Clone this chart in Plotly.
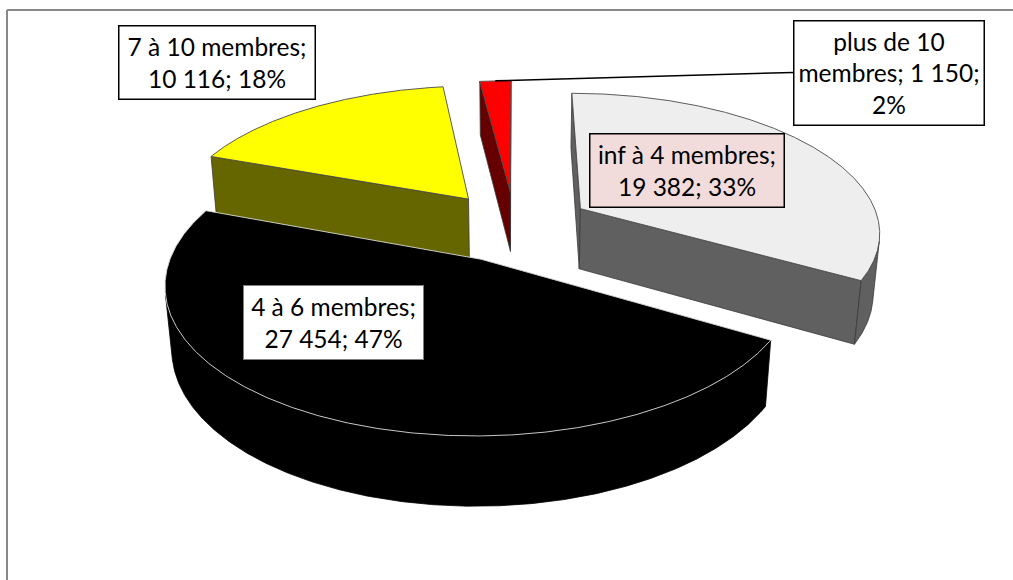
import textwrap
import numpy as np
import plotly.graph_objects as go

# Household size categories and counts
categories = ["inf à 4 membres", "4 à 6 membres", "7 à 10 membres", "plus de 10 membres"]
counts = [19382, 27454, 10116, 1150]
count_labels = ["19 382", "27 454", "10 116", "1 150"]
percent_labels = ["33%", "47%", "18%", "2%"]

# Styling per slice
top_colors = ["#eeeeee", "#000000", "#ffff00", "#ff0000"]
side_colors = ["#606060", "#000000", "#666600", "#660000"]
edge_colors = ["#4a4a4a", "#d9d9d9", "#4a4a4a", "#4a4a4a"]
side_edge_colors = ["#3a3a3a", "#000000", "#3a3a3a", "#3a3a3a"]

# Label boxes (centre x, centre y, width, height) in page pixels
label_boxes = [
    (686.5, 170.0, 195, 74),
    (333.5, 322.5, 181, 75),
    (216.5, 62.0, 197, 74),
    (888.5, 72.5, 191, 105),
]
label_bg = ["#f2dcdb", "#ffffff", "#ffffff", "#ffffff"]
label_border = ["#000000", "#7f7f7f", "#000000", "#000000"]
label_border_w = [1.5, 1, 1.5, 1.5]

W, H = 1013, 580

# 3D exploded pie geometry, expressed in page pixels
CX, CY = 515.0, 226.0
RADIUS = 300.0
EXPLODE = 77.0
THICK = 70.0
ELEV = np.radians(27.4)
DIST = 1731.0
SIN_E, COS_E = np.sin(ELEV), np.cos(ELEV)
CAMERA = np.array([0.0, DIST * SIN_E, DIST * COS_E])


def project(X, Y, Z):
    X = np.asarray(X, float)
    Y = np.asarray(Y, float)
    Z = np.asarray(Z, float)
    depth = Y * SIN_E + Z * COS_E
    p = DIST / (DIST - depth)
    return CX + X * p, CY - (Y * COS_E - Z * SIN_E) * p


def faces_for_slice(a0, a1):
    mid = 0.5 * (a0 + a1)
    ox, oz = EXPLODE * np.sin(mid), -EXPLODE * np.cos(mid)
    apex = np.array([ox, 0.0, oz])
    theta = np.linspace(a0, a1, 400)
    rx = ox + RADIUS * np.sin(theta)
    rz = oz - RADIUS * np.cos(theta)

    sides = []
    # radial walls
    for ang, sign in ((a0, -1.0), (a1, 1.0)):
        normal = sign * np.array([np.cos(ang), 0.0, np.sin(ang)])
        if np.dot(CAMERA - apex, normal) > 0:
            ex, ez = ox + RADIUS * np.sin(ang), oz - RADIUS * np.cos(ang)
            X = [ox, ex, ex, ox, ox]
            Y = [0, 0, -THICK, -THICK, 0]
            Z = [oz, ez, ez, oz, oz]
            sides.append(project(X, Y, Z))
    # outer curved wall, visible part only
    nx, nz = np.sin(theta), -np.cos(theta)
    vis = (CAMERA[0] - rx) * nx + (CAMERA[2] - rz) * nz > 0
    if vis.sum() > 1:
        tx, tz = rx[vis], rz[vis]
        X = np.concatenate([tx, tx[::-1], tx[:1]])
        Y = np.concatenate([np.zeros(len(tx)), -THICK * np.ones(len(tx)), [0]])
        Z = np.concatenate([tz, tz[::-1], tz[:1]])
        sides.append(project(X, Y, Z))
    # top face
    X = np.concatenate([[ox], rx, [ox]])
    Z = np.concatenate([[oz], rz, [oz]])
    top = project(X, np.zeros(len(X)), Z)
    return oz, sides, top


total = float(sum(counts))
bounds = np.concatenate([[0.0], np.cumsum(counts) / total]) * 2 * np.pi

slices = []
for i in range(len(counts)):
    oz, sides, top = faces_for_slice(bounds[i], bounds[i + 1])
    slices.append((oz, i, sides, top))
# paint from back to front
slices.sort(key=lambda s: s[0])

fig = go.Figure()
for oz, i, sides, top in slices:
    for sx, sy in sides:
        fig.add_trace(go.Scatter(
            x=sx, y=sy, mode="lines", fill="toself",
            fillcolor=side_colors[i],
            line=dict(color=side_edge_colors[i], width=0.8),
            hoverinfo="skip", showlegend=False,
        ))
    fig.add_trace(go.Scatter(
        x=top[0], y=top[1], mode="lines", fill="toself",
        fillcolor=top_colors[i],
        line=dict(color=edge_colors[i], width=0.9),
        hoverinfo="skip", showlegend=False, name=categories[i],
    ))

# Leader line from the smallest slice to its label
small = int(np.argmin(counts))
a_mid = 0.5 * (bounds[small] + bounds[small + 1])
ox, oz = EXPLODE * np.sin(a_mid), -EXPLODE * np.cos(a_mid)
lx, ly = project([ox + RADIUS * np.sin(a_mid)], [0.0], [oz - RADIUS * np.cos(a_mid)])
bx, by, bw, bh = label_boxes[small]
fig.add_trace(go.Scatter(
    x=[lx[0], bx - bw / 2], y=[ly[0], by], mode="lines",
    line=dict(color="#000000", width=1.5), hoverinfo="skip", showlegend=False,
))

annotations = []
for i in range(len(counts)):
    text = f"{categories[i]}; {count_labels[i]}; {percent_labels[i]}"
    lines = textwrap.wrap(text, width=16, break_long_words=False)
    x, y, bw, bh = label_boxes[i]
    annotations.append(dict(
        x=x, y=y, xref="x", yref="y", text="<br>".join(lines),
        showarrow=False, xanchor="center", yanchor="middle",
        align="center", valign="middle",
        width=bw - 2, height=bh - 2, borderpad=0,
        bgcolor=label_bg[i], bordercolor=label_border[i],
        borderwidth=label_border_w[i],
        font=dict(family="Lato, Open Sans, sans-serif", size=24.5, color="#000000"),
    ))

# Chart frame (top and left edges)
shapes = [
    dict(type="line", xref="x", yref="y", x0=7, y0=10, x1=W, y1=10,
         line=dict(color="#898989", width=2)),
    dict(type="line", xref="x", yref="y", x0=7, y0=10, x1=7, y1=H,
         line=dict(color="#898989", width=2)),
]

fig.update_layout(
    width=W, height=H,
    margin=dict(l=0, r=0, t=0, b=0),
    paper_bgcolor="#ffffff", plot_bgcolor="#ffffff",
    showlegend=False,
    xaxis=dict(range=[0, W], visible=False, fixedrange=True),
    yaxis=dict(range=[H, 0], visible=False, fixedrange=True),
    annotations=annotations,
    shapes=shapes,
)

fig.write_html("out.html")
